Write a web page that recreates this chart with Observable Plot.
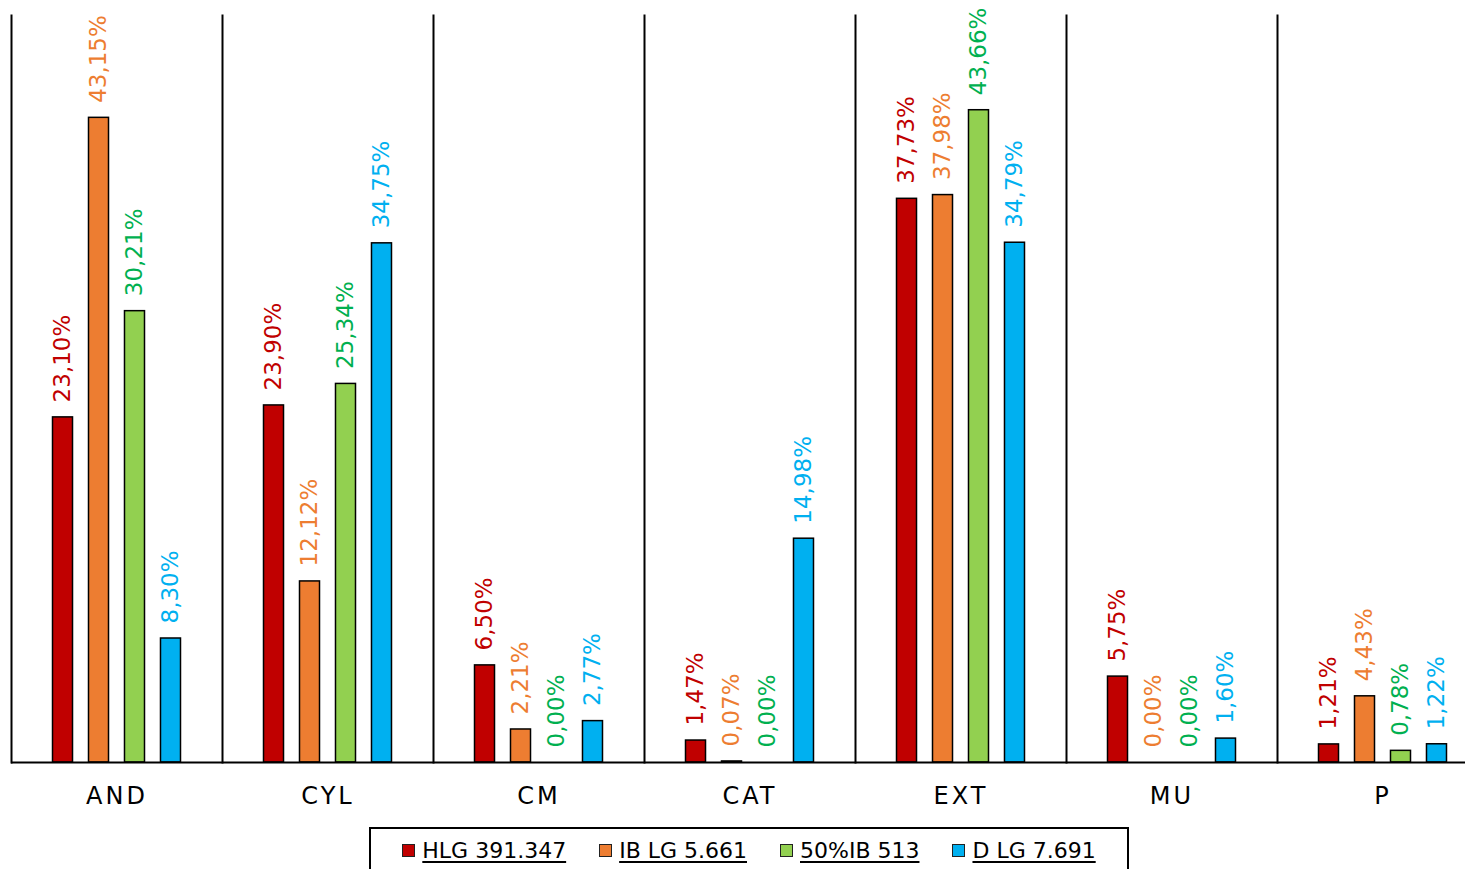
<!DOCTYPE html>
<html>
<head>
<meta charset="utf-8">
<script src="https://cdn.jsdelivr.net/npm/d3@7"></script>
<script src="https://cdn.jsdelivr.net/npm/@observablehq/plot@0.6"></script>
<style>
  html, body { margin: 0; padding: 0; background: #fff; overflow: hidden; width: 1465px; height: 869px; }
  #chart { position: absolute; left: 0; top: 0; }
  #legend {
    position: absolute; left: 369px; top: 827px; width: 756px; height: 60px;
    border: 2px solid #000; box-sizing: content-box;
    display: flex; justify-content: center; align-items: flex-start; gap: 33px;
    font-family: "DejaVu Sans", sans-serif; font-size: 22px; color: #000;
  }
  #legend .item { display: flex; align-items: center; margin-top: 9px; }
  #legend .sw { width: 11px; height: 11px; border: 1.5px solid #222; margin-right: 7px; }
  #legend .lab { text-decoration: underline; text-underline-offset: 3px; letter-spacing: 0px; }
  g[aria-label^="fx-axis"] text { letter-spacing: 3px; }
</style>
</head>
<body>
<div id="chart"></div>
<div id="legend"></div>
<script>
const categories = ["AND", "CYL", "CM", "CAT", "EXT", "MU", "P"];
const series = ["HLG 391.347", "IB LG 5.661", "50%IB 513", "D LG 7.691"];
const fillColors = ["#C00000", "#ED7D31", "#92D050", "#00B0F0"];
const labelColors = ["#C00000", "#ED7D31", "#00B050", "#00B0F0"];
const hlg  = [23.10, 23.90, 6.50, 1.47, 37.73, 5.75, 1.21];
const iblg = [43.15, 12.12, 2.21, 0.07, 37.98, 0.00, 4.43];
const ib50 = [30.21, 25.34, 0.00, 0.00, 43.66, 0.00, 0.78];
const dlg  = [8.30, 34.75, 2.77, 14.98, 34.79, 1.60, 1.22];

const seriesValues = [hlg, iblg, ib50, dlg];
const data = [];
categories.forEach((c, i) => {
  series.forEach((s, j) => {
    data.push({category: c, series: s, value: seriesValues[j][i], label: labelColors[j]});
  });
});
const fmt = v => v.toFixed(2).replace(".", ",") + "%";

const chart = Plot.plot({
  width: 1488,
  height: 815,
  marginLeft: 11,
  marginRight: 0,
  marginTop: 15,
  marginBottom: 53,
  style: {fontFamily: "DejaVu Sans, sans-serif", fontSize: "24px", color: "#000", background: "#fff", maxWidth: "none", overflow: "visible"},
  fx: {domain: categories, padding: 0, round: false, label: null, tickSize: 0, tickPadding: 24},
  x: {domain: series, paddingInner: 0.444, paddingOuter: 1.153, round: false, axis: null},
  y: {domain: [0, 50], axis: null},
  color: {domain: series, range: fillColors},
  marks: [
    Plot.frame({anchor: "left", stroke: "#000", strokeWidth: 2}),
    Plot.barY(data, {fx: "category", x: "series", y: "value", fill: "series", stroke: "#000", strokeWidth: 1.5}),
    Plot.ruleY([0], {stroke: "#000", strokeWidth: 2}),
    Plot.text(data, {fx: "category", x: "series", y: "value", text: d => fmt(d.value), fill: "label",
      rotate: -90, textAnchor: "start", lineAnchor: "middle", dy: -15, fontSize: 23, fontFamily: "DejaVu Sans, sans-serif"})
  ]
});
document.getElementById("chart").appendChild(chart);

const legend = document.getElementById("legend");
series.forEach((s, j) => {
  const item = document.createElement("div");
  item.className = "item";
  const sw = document.createElement("div");
  sw.className = "sw";
  sw.style.background = fillColors[j];
  const lab = document.createElement("span");
  lab.className = "lab";
  lab.textContent = s;
  item.appendChild(sw);
  item.appendChild(lab);
  legend.appendChild(item);
});
</script>
</body>
</html>
